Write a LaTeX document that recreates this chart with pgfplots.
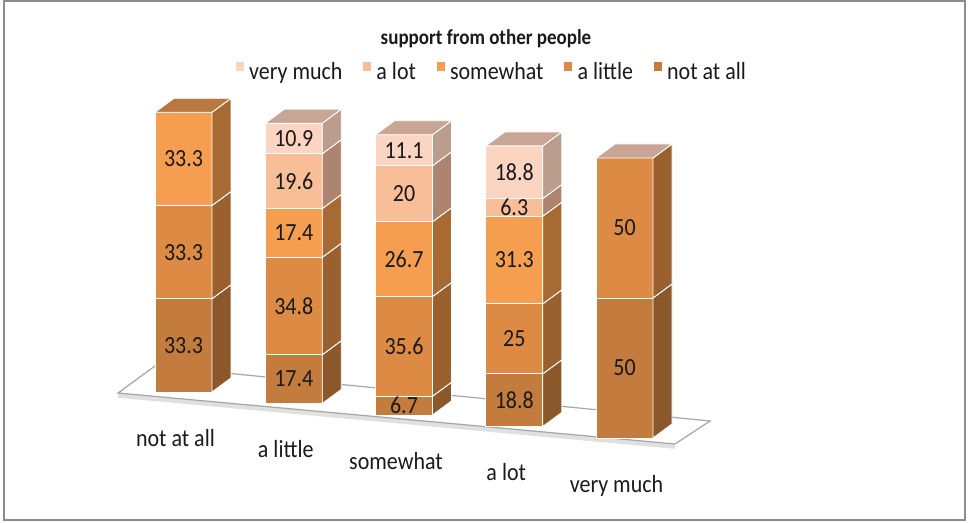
\documentclass[border=0pt]{standalone}
\usepackage{pgfplots}
\pgfplotsset{compat=1.18}
\usepackage{fontspec}
\setmainfont{Carlito}
\definecolor{c1}{HTML}{C47B3E}
\definecolor{c2}{HTML}{DD8A44}
\definecolor{c3}{HTML}{F69E50}
\definecolor{c4}{HTML}{F8BE98}
\definecolor{c5}{HTML}{FBD5C2}
\definecolor{s1}{HTML}{8A582A}
\definecolor{s2}{HTML}{9A612E}
\definecolor{s3}{HTML}{A76A32}
\definecolor{s4}{HTML}{AC8470}
\definecolor{s5}{HTML}{BB9D8E}
\definecolor{topA}{HTML}{B9783F}
\definecolor{topB}{HTML}{C8A595}
\definecolor{txt}{HTML}{1A1A1A}
\newcommand{\vs}[1]{\scalebox{1}[1.12]{#1}}
\pgfplotsset{
  base/.style={
    at={(183.5pt,130pt)}, anchor=origin,
    x={(110.25pt,-11.5pt)}, y={(0pt,2.8pt)},
    xmin=-0.7, xmax=4.8, ymin=0, ymax=110,
    clip=false,
  },
  sq/.style={legend image code/.code={\fill[##1,draw=none] (0pt,1pt) rectangle (8pt,10.5pt);}},
  face/.style={fill=#1, draw=white, line width=0.9pt, forget plot},
}
\newcommand{\bigf}{\fontsize{22}{26}\selectfont}
\begin{document}
\begin{tikzpicture}
\useasboundingbox (0pt,0pt) rectangle (968pt,522pt);
\draw[color=black!45, line width=2pt] (4pt,2pt) rectangle (965pt,521pt);
\node[font=\bfseries\fontsize{19}{22}\selectfont, text=txt] at (486pt,483pt) {\vs{support from other people}};
% floor
\begin{axis}[base, hide axis]
\addplot[draw=black!12, line width=5pt, forget plot] coordinates {(-0.594,-3.6) (4.458,-1.1)};
\addplot[draw=black!35, line width=1.2pt, fill=white, forget plot] coordinates {(-0.594,-2.80) (-0.2585,8.22) (4.776,9.26) (4.458,-0.26)} -- cycle;
\end{axis}
% bars
\begin{axis}[base, ybar stacked, bar width=57pt,
  axis line style={draw=none}, tick style={draw=none}, ytick=\empty,
  xtick={0,1,2,3,4},
  xticklabels={\vs{not at all},\vs{a little},\vs{somewhat},\vs{a lot},\vs{very much}},
  xticklabel style={anchor=base, yshift=-54pt, xshift=-8pt, font=\bigf, text=txt},
  legend columns=5, reverse legend, legend cell align=left,
  legend style={at={(axis cs:2.794,125.75)}, anchor=center, draw=none, fill=none,
    font=\bigf, text=txt, nodes={inner sep=1.5pt},
    /tikz/every odd column/.append style={column sep=4pt},
    /tikz/every even column/.append style={column sep=19pt}},
]
\addplot[fill=c1, draw=white, line width=1pt, sq] coordinates {(0,33.3) (1,17.4) (2,6.7) (3,18.8) (4,50)};
\addplot[fill=c2, draw=white, line width=1pt, sq] coordinates {(0,33.3) (1,34.8) (2,35.6) (3,25) (4,50)};
\addplot[fill=c3, draw=white, line width=1pt, sq] coordinates {(0,33.3) (1,17.4) (2,26.7) (3,31.3) (4,0)};
\addplot[fill=c4, draw=white, line width=1pt, sq] coordinates {(0,0) (1,19.6) (2,20) (3,6.3) (4,0)};
\addplot[fill=c5, draw=white, line width=1pt, sq] coordinates {(0,0) (1,10.9) (2,11.1) (3,18.8) (4,0)};
\legend{\vs{not at all}, \vs{a little}, \vs{somewhat}, \vs{a lot}, \vs{very much}}
\end{axis}
% side and top faces, value labels
\begin{axis}[base, hide axis]
% bar 0
\addplot[face=s1] coordinates {(0.2585,1.06) (0.4308,6.77) (0.4308,40.07) (0.2585,34.36)} -- cycle;
\addplot[face=s2] coordinates {(0.2585,34.36) (0.4308,40.07) (0.4308,73.37) (0.2585,67.66)} -- cycle;
\addplot[face=s3] coordinates {(0.2585,67.66) (0.4308,73.37) (0.4308,106.67) (0.2585,100.96)} -- cycle;
\addplot[face=topA] coordinates {(-0.2585,98.84) (-0.0862,104.55) (0.4308,106.67) (0.2585,100.96)} -- cycle;
% bar 1
\addplot[face=s1] coordinates {(1.2585,1.06) (1.4308,6.77) (1.4308,24.17) (1.2585,18.46)} -- cycle;
\addplot[face=s2] coordinates {(1.2585,18.46) (1.4308,24.17) (1.4308,58.97) (1.2585,53.26)} -- cycle;
\addplot[face=s3] coordinates {(1.2585,53.26) (1.4308,58.97) (1.4308,76.37) (1.2585,70.66)} -- cycle;
\addplot[face=s4] coordinates {(1.2585,70.66) (1.4308,76.37) (1.4308,95.97) (1.2585,90.26)} -- cycle;
\addplot[face=s5] coordinates {(1.2585,90.26) (1.4308,95.97) (1.4308,106.87) (1.2585,101.16)} -- cycle;
\addplot[face=topB] coordinates {(0.7415,99.04) (0.9138,104.75) (1.4308,106.87) (1.2585,101.16)} -- cycle;
% bar 2
\addplot[face=s1] coordinates {(2.2585,1.06) (2.4308,6.77) (2.4308,13.47) (2.2585,7.76)} -- cycle;
\addplot[face=s2] coordinates {(2.2585,7.76) (2.4308,13.47) (2.4308,49.07) (2.2585,43.36)} -- cycle;
\addplot[face=s3] coordinates {(2.2585,43.36) (2.4308,49.07) (2.4308,75.77) (2.2585,70.06)} -- cycle;
\addplot[face=s4] coordinates {(2.2585,70.06) (2.4308,75.77) (2.4308,95.77) (2.2585,90.06)} -- cycle;
\addplot[face=s5] coordinates {(2.2585,90.06) (2.4308,95.77) (2.4308,106.87) (2.2585,101.16)} -- cycle;
\addplot[face=topB] coordinates {(1.7415,99.04) (1.9138,104.75) (2.4308,106.87) (2.2585,101.16)} -- cycle;
% bar 3
\addplot[face=s1] coordinates {(3.2585,1.06) (3.4308,6.77) (3.4308,25.57) (3.2585,19.86)} -- cycle;
\addplot[face=s2] coordinates {(3.2585,19.86) (3.4308,25.57) (3.4308,50.57) (3.2585,44.86)} -- cycle;
\addplot[face=s3] coordinates {(3.2585,44.86) (3.4308,50.57) (3.4308,81.87) (3.2585,76.16)} -- cycle;
\addplot[face=s4] coordinates {(3.2585,76.16) (3.4308,81.87) (3.4308,88.17) (3.2585,82.46)} -- cycle;
\addplot[face=s5] coordinates {(3.2585,82.46) (3.4308,88.17) (3.4308,106.97) (3.2585,101.26)} -- cycle;
\addplot[face=topB] coordinates {(2.7415,99.14) (2.9138,104.85) (3.4308,106.97) (3.2585,101.26)} -- cycle;
% bar 4
\addplot[face=s1] coordinates {(4.2585,1.06) (4.4308,6.77) (4.4308,56.77) (4.2585,51.06)} -- cycle;
\addplot[face=s2] coordinates {(4.2585,51.06) (4.4308,56.77) (4.4308,106.77) (4.2585,101.06)} -- cycle;
\addplot[face=topB] coordinates {(3.7415,98.94) (3.9138,104.65) (4.4308,106.77) (4.2585,101.06)} -- cycle;
% value labels
\addplot[draw=none, mark=none, forget plot, nodes near coords={\vs{\pgfplotspointmeta}}, point meta=explicit symbolic,
  nodes near coords style={anchor=center, font=\bigf, text=txt, inner sep=0pt}]
  coordinates {
  (0,16.65) [33.3] (0,49.95) [33.3] (0,83.25) [33.3]
  (1,8.7) [17.4] (1,34.8) [34.8] (1,60.9) [17.4] (1,79.4) [19.6] (1,94.65) [10.9]
  (2,3.35) [6.7] (2,24.5) [35.6] (2,55.65) [26.7] (2,79.0) [20] (2,94.55) [11.1]
  (3,9.4) [18.8] (3,31.3) [25] (3,59.45) [31.3] (3,78.25) [6.3] (3,90.8) [18.8]
  (4,25) [50] (4,75) [50]
  };
\end{axis}
\end{tikzpicture}
\end{document}
